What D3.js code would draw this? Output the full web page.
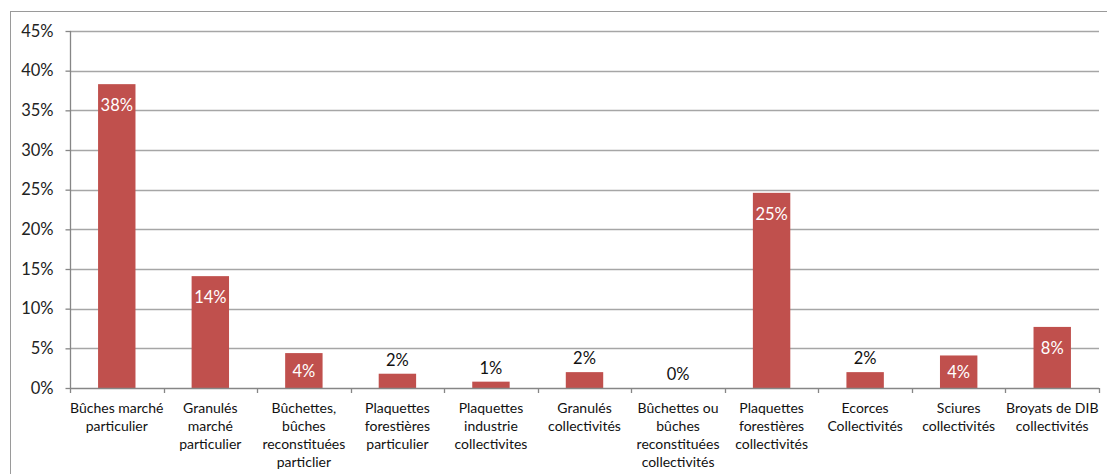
<!DOCTYPE html>
<html>
<head>
<meta charset="utf-8">
<script src="https://cdn.jsdelivr.net/npm/d3@7"></script>
<style>
  html, body { margin: 0; padding: 0; background: #fff; }
  svg { display: block; font-family: "Lato", "Open Sans", sans-serif; }
</style>
</head>
<body>
<svg id="chart" width="1107" height="474"></svg>
<script>
// Category labels, one array of lines per bar
const categories = [
  ["Bûches marché", "particulier"],
  ["Granulés", "marché", "particulier"],
  ["Bûchettes,", "bûches", "reconstituées", "particlier"],
  ["Plaquettes", "forestières", "particulier"],
  ["Plaquettes", "industrie", "collectivites"],
  ["Granulés", "collectivités"],
  ["Bûchettes ou", "bûches", "reconstituées", "collectivités"],
  ["Plaquettes", "forestières", "collectivités"],
  ["Ecorces", "Collectivités"],
  ["Sciures", "collectivités"],
  ["Broyats de DIB", "collectivités"]
];
// Share of each fuel (fraction)
const shares = [0.383, 0.141, 0.044, 0.018, 0.008, 0.020, 0.0, 0.246, 0.020, 0.041, 0.077];
// Y axis ticks
const yTicks = [0, 0.05, 0.10, 0.15, 0.20, 0.25, 0.30, 0.35, 0.40, 0.45];

const svg = d3.select("#chart");
const plotLeft = 70, plotRight = 1099, plotTop = 31, plotBottom = 388;

// Outer frame
svg.append("rect")
  .attr("x", 10.5).attr("y", 11.5)
  .attr("width", 1120).attr("height", 500)
  .attr("fill", "none").attr("stroke", "#9a9a9a").attr("stroke-width", 1);

const x = d3.scaleBand()
  .domain(d3.range(categories.length))
  .range([plotLeft, plotRight])
  .paddingInner(0.6).paddingOuter(0.3);

const y = d3.scaleLinear().domain([0, 0.45]).range([plotBottom, plotTop]);

// Horizontal gridlines
svg.append("g")
  .selectAll("line")
  .data(yTicks.slice(1))
  .join("line")
  .attr("x1", plotLeft).attr("x2", plotRight)
  .attr("y1", d => Math.round(y(d)) + 0.5).attr("y2", d => Math.round(y(d)) + 0.5)
  .attr("stroke", "#a6a6a6").attr("stroke-width", 1.3);

// Y axis
const yAxis = d3.axisLeft(y)
  .tickValues(yTicks)
  .tickFormat(d => Math.round(d * 100) + "%")
  .tickSize(5).tickPadding(12);
const gy = svg.append("g").attr("transform", `translate(${plotLeft + 0.5},0)`).call(yAxis);
gy.select(".domain").attr("stroke", "#868686").attr("stroke-width", 1.3).attr("d", `M0,${plotTop}V${plotBottom}`);
gy.selectAll(".tick line").attr("stroke", "#868686").attr("stroke-width", 1.3);
gy.selectAll(".tick text").attr("fill", "#222").style("font-size", "16.5px")
  .style("font-family", "Lato, 'Open Sans', sans-serif");

// Bars
svg.append("g")
  .selectAll("rect")
  .data(shares)
  .join("rect")
  .attr("x", (d, i) => x(i))
  .attr("width", x.bandwidth())
  .attr("y", d => y(d))
  .attr("height", d => y(0) - y(d))
  .attr("fill", "#c0504d");

// X axis line with ticks on category boundaries
const gx = svg.append("g");
gx.append("line")
  .attr("x1", plotLeft).attr("x2", plotRight)
  .attr("y1", plotBottom + 0.5).attr("y2", plotBottom + 0.5)
  .attr("stroke", "#868686").attr("stroke-width", 1.3);
gx.selectAll("line.tk")
  .data(d3.range(categories.length + 1).map(i => x(0) - x.step() * 0.3 + i * x.step()))
  .join("line").attr("class", "tk")
  .attr("x1", d => Math.round(d) + 0.5).attr("x2", d => Math.round(d) + 0.5)
  .attr("y1", plotBottom).attr("y2", plotBottom + 5)
  .attr("stroke", "#868686").attr("stroke-width", 1.3);

// Category labels
const lab = svg.append("g")
  .selectAll("text")
  .data(categories)
  .join("text")
  .attr("x", (d, i) => x(i) + x.bandwidth() / 2)
  .attr("y", 413)
  .attr("text-anchor", "middle")
  .attr("fill", "#111")
  .style("font-size", "14px");
lab.selectAll("tspan")
  .data(d => d)
  .join("tspan")
  .attr("x", function () { return this.parentNode.getAttribute("x"); })
  .attr("dy", (d, j) => j === 0 ? 0 : 18)
  .text(d => d);

// Value labels: inside the bar top when it is tall enough, above it otherwise
svg.append("g")
  .selectAll("text")
  .data(shares)
  .join("text")
  .attr("x", (d, i) => x(i) + x.bandwidth() / 2)
  .attr("y", d => {
    const barTop = y(d), h = y(0) - y(d);
    if (d >= 0.03) return Math.min(barTop + 21, barTop + h / 2) + 6;
    return barTop - 14 + 6;
  })
  .attr("text-anchor", "middle")
  .attr("fill", d => d >= 0.03 ? "#fff" : "#111")
  .style("font-size", "16.5px")
  .text(d => Math.round(d * 100) + "%");
</script>
</body>
</html>
